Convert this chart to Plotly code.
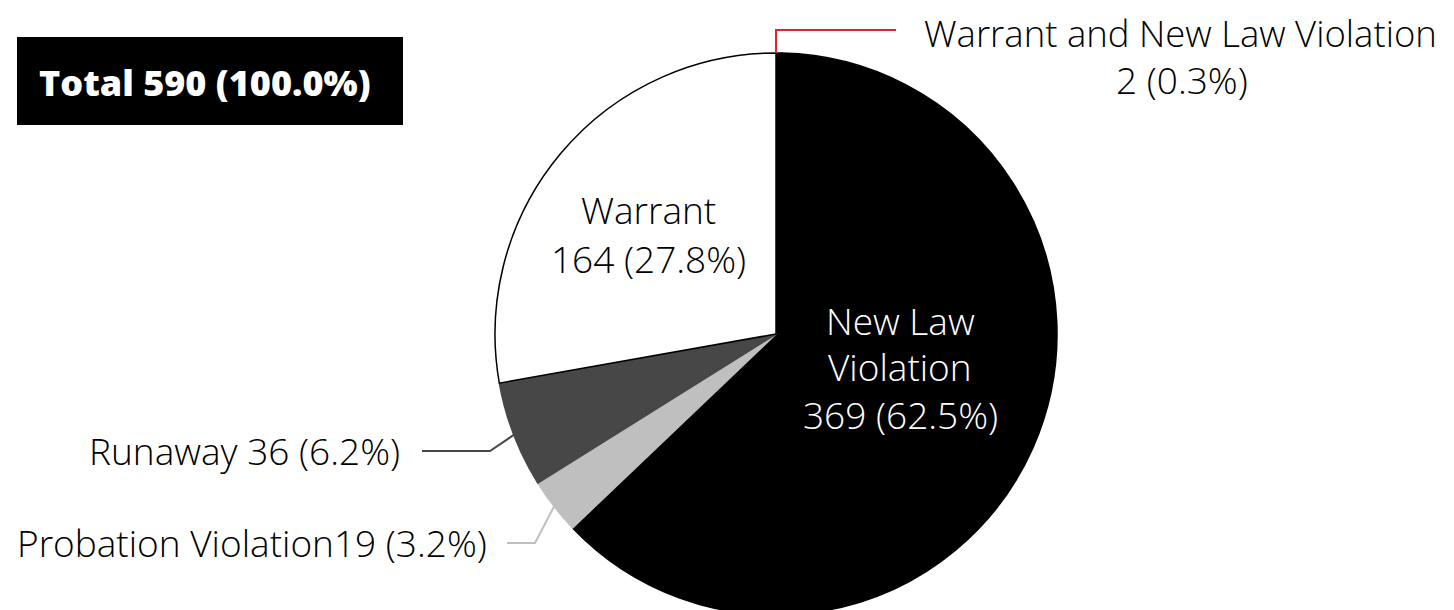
import math
import plotly.graph_objects as go

labels = ["Warrant and New Law Violation", "New Law Violation", "Probation Violation", "Runaway", "Warrant"]
values = [2, 369, 19, 36, 164]
percents = ["0.3%", "62.5%", "3.2%", "6.2%", "27.8%"]
colors = ["#000000", "#000000", "#bfbfbf", "#474747", "#ffffff"]
line_colors = ["#000000", "#000000", "#bfbfbf", "#474747", "#000000"]
total_label = "Total 590 (100.0%)"

OFF = 8  # page body margin
W, H = 1446, 607
FONT = "Open Sans"
FS = 37

# pie geometry (reference page pixels)
R = 281
CX = 776
CY = 334

def px(x):
    return (x - OFF) / W

def py(y):
    return 1 - (y - OFF) / H

fig = go.Figure(go.Pie(
    labels=labels, values=values, sort=False, direction="clockwise", rotation=0,
    marker=dict(colors=colors, line=dict(color=line_colors, width=1.5)),
    textinfo="none", hoverinfo="label+value+percent",
    domain=dict(x=[px(CX - R), px(CX + R)], y=[max(0, py(CY + R)), py(CY - R)]),
))

tot = sum(values)
cum = 0
mids = []
starts = []
for v in values:
    starts.append(cum / tot * 360)
    mids.append((cum + v / 2) / tot * 360)
    cum += v

def edge(angle, r=R):
    a = math.radians(angle)
    return CX + r * math.sin(a), CY - r * math.cos(a)

ann = []
def text(x, y, s, color="#000000", anchor="center", size=FS, weight=300):
    ann.append(dict(x=px(x), y=py(y), xref="paper", yref="paper", text=s,
                    showarrow=False, xanchor=anchor, yanchor="middle", borderpad=0,
                    font=dict(family=FONT, size=size, color=color, weight=weight)))

shapes = []
def seg(points, color):
    path = "M " + " L ".join("%f,%f" % (px(x), py(y)) for x, y in points)
    shapes.append(dict(type="path", path=path, xref="paper", yref="paper",
                       line=dict(color=color, width=2)))

# Inside labels
text(648, 210, labels[4])
text(648, 258, "%d (%s)" % (values[4], percents[4]))
text(900, 320, "New Law", color="#ffffff")
text(900, 366, "Violation", color="#ffffff")
text(900, 414, "%d (%s)" % (values[1], percents[1]), color="#ffffff")

# Runaway
ex, ey = edge(mids[3])
seg([(ex, ey), (490, 451), (422, 451)], "#474747")
text(401, 450, "%s %d (%s)" % (labels[3], values[3], percents[3]), anchor="right")

# Probation Violation
ex, ey = edge(mids[2])
seg([(ex, ey), (535, 543), (507, 543)], "#bfbfbf")
text(488, 542, "%s%d (%s)" % (labels[2], values[2], percents[2]), anchor="right")

# Warrant and New Law Violation
ex, ey = edge(starts[0])
seg([(ex, ey), (ex, 30), (896, 30)], "#e0232e")
text(1180, 33, labels[0], size=36.5)
text(1182, 79, "%d (%s)" % (values[0], percents[0]))

# Total box
shapes.append(dict(type="rect", xref="paper", yref="paper", x0=px(17), x1=px(403), y0=py(125), y1=py(37),
                   fillcolor="#000000", line=dict(width=0), layer="below"))
text(205, 82, total_label, color="#ffffff", size=36, weight=800)

fig.update_layout(
    width=W, height=H, margin=dict(l=0, r=0, t=0, b=0),
    paper_bgcolor="#ffffff", plot_bgcolor="#ffffff", showlegend=False,
    annotations=ann, shapes=shapes,
)
fig.write_html("out.html")
